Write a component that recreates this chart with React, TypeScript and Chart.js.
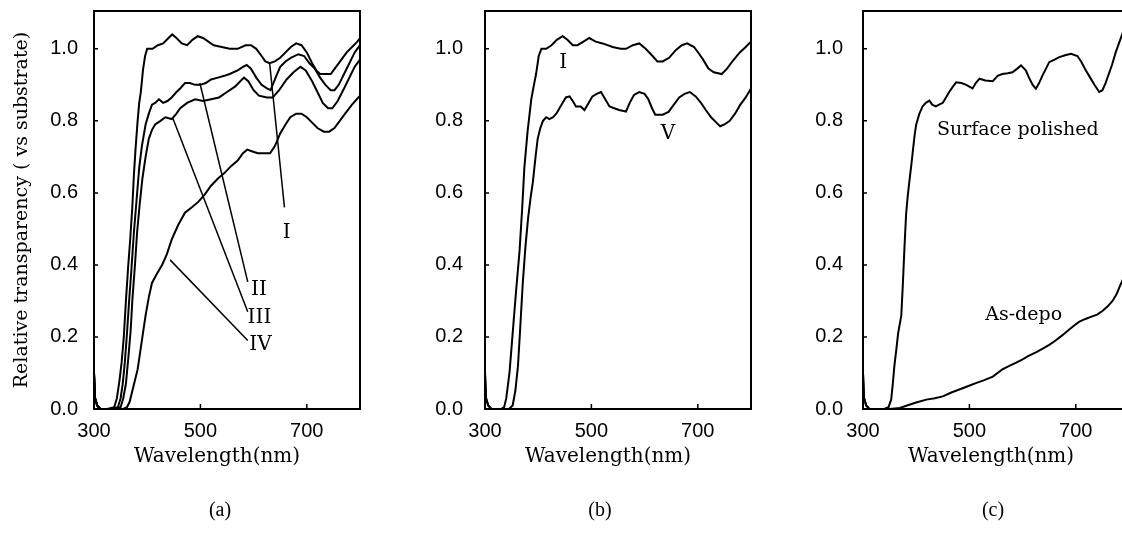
import { useEffect, useRef } from "react";
import { Chart, registerables } from "chart.js";

Chart.register(...registerables);

type Pt = [number, number];

// ---------- axes ----------
const xTicks = [300, 500, 700];
const yTicks = [0, 0.2, 0.4, 0.6, 0.8, 1.0];
const xMin = 300;
const xMax = 800;
const yMin = 0;
const yMax = 1.105;

// ---------- panel (a) ----------
const aCurveI: Pt[] = [
  [300, 0.1], [302, 0.03], [306, 0.01], [312, 0], [325, 0], [338, 0.005], [343, 0.03], [348, 0.08],
  [352, 0.13], [356, 0.2], [360, 0.3], [364, 0.39], [368, 0.47], [372, 0.56], [375, 0.65], [378, 0.72],
  [382, 0.8], [385, 0.85], [388, 0.88], [392, 0.94], [396, 0.98], [400, 1.0], [410, 1.0], [420, 1.01],
  [430, 1.015], [440, 1.03], [447, 1.04], [455, 1.03], [465, 1.015], [475, 1.01], [485, 1.025],
  [495, 1.035], [505, 1.03], [515, 1.02], [525, 1.01], [540, 1.005], [555, 1.0], [570, 1.0],
  [585, 1.01], [595, 1.01], [605, 1.0], [615, 0.98], [622, 0.965], [630, 0.96], [640, 0.965],
  [650, 0.975], [660, 0.99], [670, 1.005], [680, 1.015], [690, 1.01], [700, 0.99], [710, 0.96],
  [718, 0.94], [725, 0.93], [735, 0.93], [745, 0.93], [755, 0.95], [765, 0.97], [775, 0.99],
  [785, 1.005], [795, 1.02], [800, 1.03],
];
const aCurveII: Pt[] = [
  [300, 0.1], [302, 0.03], [306, 0.01], [312, 0], [330, 0], [345, 0.005], [350, 0.03], [354, 0.07],
  [358, 0.13], [362, 0.21], [366, 0.3], [370, 0.38], [375, 0.49], [380, 0.58], [385, 0.67], [390, 0.73],
  [397, 0.79], [403, 0.82], [409, 0.845], [415, 0.85], [422, 0.86], [430, 0.85], [438, 0.855],
  [446, 0.865], [455, 0.88], [462, 0.89], [471, 0.905], [480, 0.905], [490, 0.9], [500, 0.9],
  [510, 0.905], [520, 0.915], [533, 0.92], [545, 0.925], [555, 0.93], [570, 0.94], [580, 0.95],
  [587, 0.955], [595, 0.945], [605, 0.92], [615, 0.9], [625, 0.89], [632, 0.885], [640, 0.915],
  [650, 0.95], [660, 0.965], [670, 0.975], [684, 0.985], [695, 0.98], [705, 0.96], [715, 0.945],
  [725, 0.92], [735, 0.9], [745, 0.885], [752, 0.885], [760, 0.9], [770, 0.93], [780, 0.96],
  [790, 0.99], [800, 1.01],
];
const aCurveIII: Pt[] = [
  [300, 0.1], [302, 0.03], [306, 0.01], [312, 0], [335, 0], [350, 0.005], [355, 0.03], [360, 0.07],
  [365, 0.15], [369, 0.22], [372, 0.3], [377, 0.4], [381, 0.49], [386, 0.57], [391, 0.64], [397, 0.7],
  [403, 0.75], [409, 0.775], [415, 0.79], [425, 0.8], [434, 0.81], [446, 0.805], [455, 0.82],
  [462, 0.835], [475, 0.85], [490, 0.86], [505, 0.855], [520, 0.86], [535, 0.865], [550, 0.88],
  [565, 0.895], [575, 0.91], [582, 0.92], [590, 0.91], [600, 0.885], [610, 0.87], [625, 0.865],
  [636, 0.865], [648, 0.885], [662, 0.915], [675, 0.935], [688, 0.95], [698, 0.94], [710, 0.91],
  [720, 0.88], [730, 0.85], [740, 0.835], [748, 0.835], [758, 0.855], [770, 0.89], [780, 0.92],
  [790, 0.95], [800, 0.97],
];
const aCurveIV: Pt[] = [
  [300, 0.1], [302, 0.03], [306, 0.01], [312, 0], [355, 0], [362, 0.005], [367, 0.02], [372, 0.05],
  [377, 0.08], [382, 0.11], [385, 0.14], [391, 0.2], [397, 0.26], [403, 0.31], [409, 0.35],
  [418, 0.375], [428, 0.4], [437, 0.43], [446, 0.47], [458, 0.51], [471, 0.545], [484, 0.56],
  [496, 0.575], [508, 0.595], [520, 0.62], [533, 0.64], [545, 0.655], [558, 0.675], [570, 0.69],
  [580, 0.71], [588, 0.72], [598, 0.715], [608, 0.71], [620, 0.71], [631, 0.71], [640, 0.73],
  [650, 0.765], [660, 0.79], [669, 0.81], [680, 0.82], [690, 0.82], [700, 0.81], [710, 0.795],
  [720, 0.78], [732, 0.77], [742, 0.77], [752, 0.78], [762, 0.8], [772, 0.82], [785, 0.845],
  [800, 0.87],
];
const aLeaders: Pt[][] = [
  [[658, 0.56], [630, 0.962]],
  [[589, 0.353], [499, 0.905]],
  [[589, 0.27], [448, 0.808]],
  [[589, 0.19], [443, 0.414]],
];
const aLabels = ["I", "II", "III", "IV"];
const aLabelPos: Pt[] = [[662, 0.49], [610, 0.33], [611, 0.253], [613, 0.178]];

// ---------- panel (b) ----------
const bCurveI: Pt[] = [
  [300, 0.1], [302, 0.03], [306, 0.01], [312, 0], [330, 0], [336, 0.005], [340, 0.03], [346, 0.1],
  [352, 0.21], [358, 0.32], [365, 0.44], [370, 0.56], [374, 0.67], [380, 0.77], [387, 0.86],
  [392, 0.9], [396, 0.93], [401, 0.98], [406, 1.0], [415, 1.0], [425, 1.01], [435, 1.025],
  [446, 1.035], [455, 1.025], [465, 1.01], [474, 1.01], [485, 1.02], [496, 1.03], [508, 1.02],
  [521, 1.015], [540, 1.005], [555, 1.0], [565, 1.0], [578, 1.01], [590, 1.015], [602, 1.0],
  [615, 0.98], [624, 0.965], [634, 0.965], [646, 0.975], [659, 0.997], [670, 1.01], [680, 1.015],
  [693, 1.005], [703, 0.985], [710, 0.97], [720, 0.945], [730, 0.935], [745, 0.93], [755, 0.945],
  [765, 0.965], [779, 0.99], [790, 1.005], [800, 1.02],
];
const bCurveV: Pt[] = [
  [300, 0.1], [302, 0.03], [306, 0.01], [312, 0], [345, 0], [352, 0.01], [357, 0.05], [362, 0.12],
  [366, 0.22], [371, 0.35], [376, 0.45], [381, 0.53], [386, 0.59], [390, 0.63], [395, 0.7],
  [399, 0.75], [404, 0.78], [409, 0.8], [415, 0.81], [421, 0.805], [428, 0.81], [434, 0.82],
  [440, 0.835], [446, 0.85], [452, 0.865], [459, 0.868], [465, 0.855], [471, 0.84], [480, 0.84],
  [487, 0.83], [495, 0.85], [502, 0.868], [510, 0.875], [518, 0.88], [526, 0.86], [534, 0.84],
  [543, 0.835], [552, 0.83], [565, 0.826], [572, 0.85], [580, 0.872], [590, 0.88], [600, 0.875],
  [607, 0.86], [614, 0.835], [620, 0.817], [634, 0.817], [645, 0.825], [655, 0.845], [665, 0.865],
  [675, 0.875], [685, 0.88], [696, 0.868], [706, 0.85], [715, 0.83], [725, 0.81], [735, 0.795],
  [742, 0.785], [750, 0.79], [760, 0.8], [770, 0.82], [780, 0.845], [790, 0.865], [800, 0.89],
];
const bLabels = ["I", "V"];
const bLabelPos: Pt[] = [[447, 0.96], [644, 0.765]];

// ---------- panel (c) ----------
const cPolished: Pt[] = [
  [300, 0.1], [302, 0.03], [306, 0.01], [312, 0], [340, 0], [348, 0.005], [353, 0.026], [356, 0.07],
  [359, 0.12], [363, 0.17], [366, 0.21], [372, 0.26], [375, 0.35], [378, 0.45], [381, 0.54],
  [384, 0.59], [387, 0.63], [391, 0.68], [394, 0.72], [397, 0.76], [400, 0.79], [406, 0.82],
  [412, 0.84], [418, 0.85], [425, 0.856], [430, 0.845], [437, 0.84], [443, 0.845], [450, 0.85],
  [456, 0.865], [462, 0.88], [469, 0.895], [475, 0.907], [485, 0.905], [494, 0.9], [500, 0.895],
  [506, 0.89], [512, 0.905], [519, 0.917], [530, 0.912], [544, 0.91], [553, 0.925], [562, 0.93],
  [572, 0.932], [581, 0.935], [590, 0.945], [597, 0.954], [606, 0.94], [612, 0.92], [619, 0.9],
  [625, 0.889], [631, 0.905], [637, 0.925], [644, 0.945], [650, 0.963], [660, 0.97], [669, 0.977],
  [680, 0.982], [691, 0.986], [703, 0.98], [710, 0.965], [719, 0.94], [727, 0.92], [735, 0.9],
  [744, 0.88], [750, 0.885], [756, 0.905], [762, 0.93], [768, 0.955], [775, 0.99], [781, 1.015],
  [786, 1.035], [792, 1.06],
];
const cAsDepo: Pt[] = [
  [300, 0.1], [302, 0.03], [306, 0.01], [312, 0], [350, 0], [369, 0.003], [387, 0.012], [400, 0.018],
  [419, 0.026], [435, 0.03], [450, 0.035], [465, 0.045], [481, 0.054], [497, 0.063], [512, 0.072],
  [528, 0.08], [544, 0.09], [553, 0.1], [562, 0.11], [575, 0.12], [587, 0.128], [600, 0.138],
  [612, 0.148], [625, 0.157], [637, 0.167], [650, 0.178], [662, 0.19], [675, 0.205], [687, 0.22],
  [697, 0.232], [706, 0.242], [718, 0.25], [731, 0.257], [740, 0.262], [750, 0.272], [760, 0.285],
  [769, 0.3], [777, 0.32], [784, 0.345], [792, 0.37],
];
const cLabels = ["Surface polished", "As-depo"];
const cLabelPos: Pt[] = [[591, 0.775], [602, 0.26]];

const xTitle = "Wavelength(nm)";
const yTitle = "Relative transparency ( vs substrate)";

interface PanelCfg {
  left: number;
  width: number;
  padRight: number;
  yAxisWidth: number;
  yTickGap: number;
  curves: Pt[][];
  leaders: Pt[][];
  labels: string[];
  labelPos: Pt[];
  labelFont: string;
  letter: string;
  titleDx: number;
  letterDx: number;
  showYTitle: boolean;
}

const panels: PanelCfg[] = [
  {
    left: 0, width: 374, padRight: 14, yAxisWidth: 94, yTickGap: 16,
    curves: [aCurveI, aCurveII, aCurveIII, aCurveIV], leaders: aLeaders,
    labels: aLabels, labelPos: aLabelPos, labelFont: '20px "DejaVu Serif"',
    letter: "(a)", titleDx: -10, letterDx: -7, showYTitle: true,
  },
  {
    left: 374, width: 391, padRight: 14, yAxisWidth: 111, yTickGap: 22,
    curves: [bCurveI, bCurveV], leaders: [],
    labels: bLabels, labelPos: bLabelPos, labelFont: '20px "DejaVu Serif"',
    letter: "(b)", titleDx: -10, letterDx: -18, showYTitle: false,
  },
  {
    left: 765, width: 366, padRight: 2, yAxisWidth: 98, yTickGap: 20,
    curves: [cPolished, cAsDepo], leaders: [],
    labels: cLabels, labelPos: cLabelPos, labelFont: '19px "DejaVu Serif"',
    letter: "(c)", titleDx: -5, letterDx: -3, showYTitle: false,
  },
];

const H = 549;
const X_AXIS_H = 140;
const TICK_FONT = { family: "Liberation Sans", size: 20, lineHeight: 1 };

function Panel({ cfg }: { cfg: PanelCfg }) {
  const ref = useRef<HTMLCanvasElement | null>(null);
  useEffect(() => {
    if (!ref.current) return;
    const toXY = (a: Pt[]) => a.map(([x, y]) => ({ x, y }));
    const datasets: any[] = [
      ...cfg.curves.map((c) => ({
        data: toXY(c), borderColor: "#000", borderWidth: 2, pointRadius: 0, tension: 0, fill: false,
      })),
      ...cfg.leaders.map((l) => ({
        data: toXY(l), borderColor: "#000", borderWidth: 1.5, pointRadius: 0, tension: 0, fill: false,
      })),
    ];
    const decor = {
      id: "decor",
      afterDraw(chart: any) {
        const { ctx, chartArea: ca, scales } = chart;
        const xs = scales.x;
        const ys = scales.y;
        ctx.save();
        ctx.strokeStyle = "#000";
        ctx.lineWidth = 2;
        ctx.strokeRect(ca.left, ca.top, ca.right - ca.left, ca.bottom - ca.top);
        ctx.lineWidth = 1.5;
        ctx.beginPath();
        for (const v of xTicks) {
          const px = xs.getPixelForValue(v);
          ctx.moveTo(px, ca.bottom);
          ctx.lineTo(px, ca.bottom - 5);
        }
        for (const v of yTicks) {
          const py = ys.getPixelForValue(v);
          ctx.moveTo(ca.left, py);
          ctx.lineTo(ca.left + 4, py);
        }
        ctx.stroke();
        ctx.fillStyle = "#000";
        ctx.textAlign = "center";
        ctx.textBaseline = "middle";
        ctx.font = cfg.labelFont;
        cfg.labels.forEach((t, i) => {
          const [lx, ly] = cfg.labelPos[i];
          ctx.fillText(t, xs.getPixelForValue(lx), ys.getPixelForValue(ly));
        });
        const cx = (ca.left + ca.right) / 2;
        ctx.font = '20px "DejaVu Serif"';
        ctx.fillText(xTitle, cx + cfg.titleDx, ca.bottom + 48);
        ctx.font = '20px "Liberation Serif"';
        ctx.fillText(cfg.letter, cx + cfg.letterDx, ca.bottom + 102);
        ctx.restore();
      },
    };
    const chart = new Chart(ref.current, {
      type: "line",
      data: { datasets },
      plugins: [decor],
      options: {
        animation: false,
        responsive: false,
        maintainAspectRatio: false,
        layout: { padding: { left: 0, right: cfg.padRight, top: 11, bottom: 0 } },
        plugins: { legend: { display: false }, tooltip: { enabled: false } },
        scales: {
          x: {
            type: "linear",
            min: xMin,
            max: xMax,
            grid: {
              display: true, drawOnChartArea: false, drawTicks: true, tickLength: 12,
              color: "rgba(0,0,0,0)",
            },
            border: { display: false },
            afterBuildTicks: (s: any) => {
              s.ticks = xTicks.map((v) => ({ value: v }));
            },
            afterFit: (s: any) => {
              s.height = X_AXIS_H;
            },
            ticks: {
              color: "#000",
              padding: 0,
              maxRotation: 0,
              autoSkip: false,
              font: TICK_FONT,
              callback: (v: any) => String(v),
            },
          },
          y: {
            type: "linear",
            min: yMin,
            max: yMax,
            grid: {
              display: true, drawOnChartArea: false, drawTicks: true, tickLength: cfg.yTickGap,
              color: "rgba(0,0,0,0)",
            },
            border: { display: false },
            afterBuildTicks: (s: any) => {
              s.ticks = yTicks.map((v) => ({ value: v }));
            },
            afterFit: (s: any) => {
              s.width = cfg.yAxisWidth;
            },
            title: {
              display: cfg.showYTitle,
              text: yTitle,
              color: "#000",
              font: { family: "DejaVu Serif", size: 19 },
              padding: { top: 11, bottom: 0 },
            },
            ticks: {
              color: "#000",
              padding: 0,
              autoSkip: false,
              font: TICK_FONT,
              callback: (v: any) => Number(v).toFixed(1),
            },
          },
        },
      },
    });
    return () => chart.destroy();
  }, [cfg]);
  return (
    <canvas
      ref={ref}
      width={cfg.width}
      height={H}
      style={{ position: "absolute", left: cfg.left, top: 0, width: cfg.width, height: H }}
    />
  );
}

export default function App() {
  return (
    <div
      style={{
        position: "fixed",
        left: 0,
        top: 0,
        width: 1122,
        height: H,
        overflow: "hidden",
        background: "#fff",
      }}
    >
      {panels.map((p) => (
        <Panel key={p.letter} cfg={p} />
      ))}
    </div>
  );
}
